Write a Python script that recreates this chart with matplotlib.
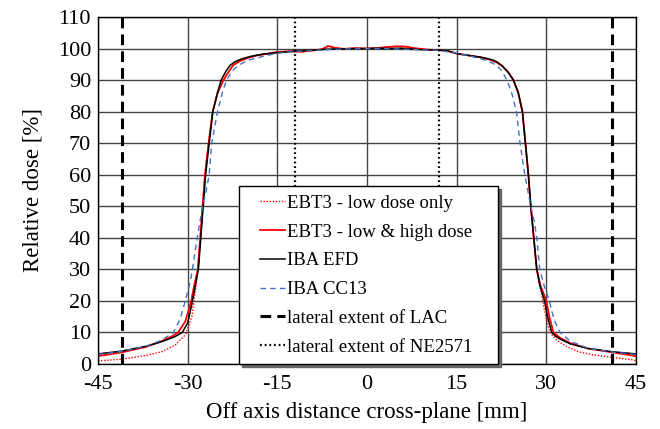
import matplotlib
matplotlib.use("Agg")
import matplotlib.pyplot as plt
from matplotlib.lines import Line2D
from matplotlib.legend_handler import HandlerLine2D

plt.rcParams['font.family'] = ['Liberation Serif', 'DejaVu Serif']
plt.rcParams['axes.unicode_minus'] = False

# EBT3 film - low & high dose calibration
x_ebt3 = [-45, -41, -37, -34.3, -32.5, -31.6, -30.4, -29.4, -28.9, -28.3,
          -27.9, -27.5, -27.1, -26.5, -25.8, -25.0, -24.0, -23.2, -22.4, -21.3,
          -20.0, -18.5, -16.5, -15, -13, -11, -9, -7.5, -6.5, -5.5,
          -4, -2, 0, 2, 3.5, 5, 6.5, 8, 9, 10.5,
          12, 13.5, 15, 17, 19, 20.5, 21.7, 22.6, 23.6, 24.5,
          25.3, 26.0, 26.5, 27.0, 27.4, 27.9, 28.4, 29.0, 30.0, 30.5,
          31.2, 32.3, 34, 37, 41, 45]
y_ebt3 = [2.5, 3.7, 5.4, 7.3, 8.9, 10, 13.5, 20, 25, 30,
          40, 50, 60, 70, 80, 86, 90, 92.5, 94.7, 96.0,
          97.0, 97.8, 98.4, 98.9, 99.1, 99.0, 99.4, 99.8, 100.8, 100.3,
          99.9, 100.1, 100, 100.2, 100.5, 100.7, 100.6, 100.1, 99.9, 99.6,
          99.5, 99.2, 98.4, 97.8, 97.2, 96.5, 95.6, 94.5, 92.5, 90,
          86, 80, 70, 60, 50, 40, 30, 25, 20, 15,
          10, 8.3, 6.6, 4.9, 3.7, 2.5]

# EBT3 film - low dose calibration only
x_ebt3_low = [-45, -41, -37, -34.3, -32.1, -30.4, -29.3, -28.8, -28.3, -27.9,
              -27.5, -27.1, -26.5, -25.8, -25.0, -24.0, -23.2, -22.4, -21.3, -20.0,
              -18.5, -16.5, -15, -13, -11, -9, -7.5, -6.5, -5.5, -4,
              -2, 0, 2, 3.5, 5, 6.5, 8, 9, 10.5, 12,
              13.5, 15, 17, 19, 20.5, 21.7, 22.6, 23.6, 24.5, 25.3,
              26.0, 26.5, 27.0, 27.4, 27.9, 28.4, 29.0, 29.8, 30.6, 31.8,
              33.4, 35.5, 37.9, 41, 44.5, 45]
y_ebt3_low = [1.0, 1.5, 2.7, 3.9, 6.0, 9.2, 15, 22, 30, 40,
              50, 60, 70, 80, 86, 90, 92.5, 94.7, 96.0, 97.0,
              97.8, 98.4, 98.9, 99.1, 99.0, 99.4, 99.8, 100.8, 100.3, 99.9,
              100.1, 100, 100.2, 100.5, 100.7, 100.6, 100.1, 99.9, 99.6, 99.5,
              99.2, 98.4, 97.8, 97.2, 96.5, 95.6, 94.5, 92.5, 90, 86,
              80, 70, 60, 50, 40, 30, 24, 16, 10, 7.5,
              5.5, 3.8, 2.9, 2.1, 1.3, 1.0]

# IBA EFD diode
x_efd = [-45, -41, -37, -34.3, -32.1, -30.9, -30.0, -29.3, -28.7, -28.2,
         -27.8, -27.4, -27.0, -26.4, -25.8, -25.0, -24.4, -23.6, -22.9, -22.0,
         -21.0, -19.5, -17.5, -15, -12, -9, -6.5, -4, -2, 0,
         2, 4, 5.5, 7, 8.5, 10, 12, 13.5, 15, 17.5,
         19.5, 21.0, 21.7, 22.5, 23.5, 24.5, 25.3, 26.0, 26.5, 27.0,
         27.4, 27.9, 28.4, 28.9, 29.7, 30.2, 30.9, 31.5, 32.3, 34,
         37, 41, 45]
y_efd = [3.2, 4.1, 5.6, 7.1, 8.7, 10, 13, 19, 25, 30,
         40, 50, 60, 70, 80, 86, 90, 92.8, 94.7, 95.9,
         96.7, 97.5, 98.2, 98.7, 99.2, 99.5, 99.8, 99.9, 100, 100,
         100.1, 100, 100.1, 99.9, 99.7, 99.6, 99.5, 99.3, 98.4, 97.7,
         97.1, 96.4, 95.8, 94.7, 92.8, 90, 86, 80, 70, 60,
         50, 40, 30, 25, 20, 15, 10, 8.9, 7.9, 6.4,
         4.9, 3.9, 3.2]

# IBA CC13 ion chamber
x_cc13 = [-45, -41, -37, -34.3, -32.4, -31.3, -30.4, -29.5, -29.2, -28.4,
          -27.5, -26.9, -26.4, -26.0, -25.0, -24.2, -23.5, -22.5, -21.5, -19.9,
          -17, -15, -12, -9, -6, -3, 0, 3, 6, 9,
          12, 15, 17.5, 19.5, 20.7, 21.7, 22.6, 23.4, 24.2, 25.0,
          25.6, 26.4, 26.9, 27.4, 28.0, 28.4, 28.9, 29.6, 30.5, 31.3,
          32.3, 34, 37, 41, 45]
y_cc13 = [3.0, 4.0, 5.6, 7.6, 10, 14, 20, 26.7, 30, 40,
          50, 55, 60, 70, 80, 86, 90, 93, 94.7, 96.3,
          97.7, 98.5, 99.1, 99.4, 99.7, 99.9, 100, 100, 99.8, 99.6,
          99.4, 98.5, 97.5, 96.5, 95.6, 94.7, 92.8, 90, 86, 80,
          70, 60, 55, 50, 45, 40, 30, 25, 20, 14,
          10, 7.2, 5.0, 3.8, 3.0]

lac_extent = 41     # mm, half width of LAC
ne2571_extent = 12  # mm, half width of NE2571

fig = plt.figure(figsize=(6.6, 4.29), dpi=100)
ax = fig.add_axes([98 / 660, 1 - 364 / 429, 538 / 660, 347 / 429])

ax.plot(x_ebt3_low, y_ebt3_low, color='red', ls=(0, (1, 1.2)), lw=1.0,
        label='EBT3 - low dose only')
ax.plot(x_ebt3, y_ebt3, color='red', lw=1.3, label='EBT3 - low & high dose')
ax.plot(x_efd, y_efd, color='black', lw=1.1, label='IBA EFD')
ax.plot(x_cc13, y_cc13, color='#4472C4', ls=(0, (4, 3)), lw=1.0, label='IBA CC13')

for s in (-1, 1):
    ax.axvline(s * lac_extent, color='black', lw=2.2, ls=(0, (3.5, 2)),
               label='lateral extent of LAC' if s < 0 else None)
for s in (-1, 1):
    ax.axvline(s * ne2571_extent, color='black', lw=1.6, ls=(0, (0.8, 1.3)),
               label='lateral extent of NE2571' if s < 0 else None)

ax.set_xlim(-45, 45)
ax.set_ylim(0, 110)
ax.set_xticks(range(-45, 46, 15))
ax.set_yticks(range(0, 111, 10))
ax.grid(True, color='#444444', lw=1.0)
ax.set_axisbelow(True)
ax.tick_params(length=0, labelsize=16)
ax.tick_params(axis='x', pad=8)
ax.tick_params(axis='y', pad=5)
for sp in ax.spines.values():
    sp.set_color('black')
    sp.set_linewidth(1.0)

ax.set_xlabel('Off axis distance cross-plane [mm]', fontsize=16.5, labelpad=6)
ax.set_ylabel('Relative dose [%]', fontsize=16.5, labelpad=10)

leg = ax.legend(loc='lower left', bbox_to_anchor=(0.262, 0.0, 0.481, 0.5),
                mode='expand', borderaxespad=0,
                fontsize=13.5, frameon=True, fancybox=False, framealpha=1,
                edgecolor='black', borderpad=0.45, labelspacing=0.62,
                handlelength=2.0, handletextpad=0.1,
                shadow={'ox': 2, 'oy': -2, 'color': '#666666', 'alpha': 1},
                handler_map={Line2D: HandlerLine2D(xpad=0.65)})
leg.get_frame().set_linewidth(1.0)

fig.savefig('out.png', dpi=100)
